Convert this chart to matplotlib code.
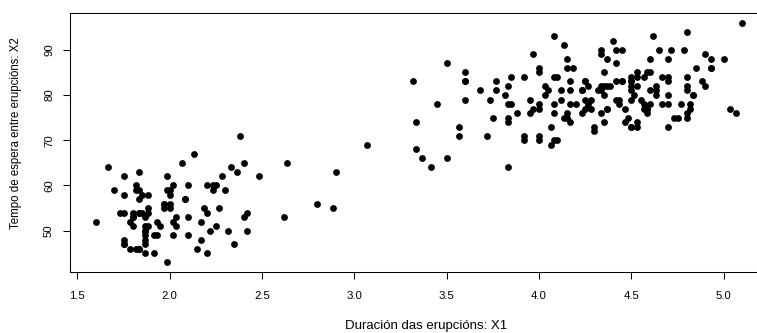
import matplotlib
matplotlib.use("Agg")
import matplotlib.pyplot as plt

plt.rcParams['font.family'] = ['Liberation Sans', 'DejaVu Sans']

# Old Faithful: eruption length (min) and waiting time to next eruption (min)
eruptions = [
    3.600, 1.800, 3.333, 2.283, 4.533, 2.883, 4.700, 3.600, 1.950, 4.350,
    1.833, 3.917, 4.200, 1.750, 4.700, 2.167, 1.750, 4.800, 1.600, 4.250,
    1.800, 1.750, 3.450, 3.067, 4.533, 3.600, 1.967, 4.083, 3.850, 4.433,
    4.300, 4.467, 3.367, 4.033, 3.833, 2.017, 1.867, 4.833, 1.833, 4.783,
    4.350, 1.883, 4.567, 1.750, 4.533, 3.317, 3.833, 2.100, 4.633, 2.000,
    4.800, 4.716, 1.833, 4.833, 1.733, 4.883, 3.717, 1.667, 4.567, 4.317,
    2.233, 4.500, 1.750, 4.800, 1.817, 4.400, 4.167, 4.700, 2.067, 4.700,
    4.033, 1.967, 4.500, 4.000, 1.983, 5.067, 2.017, 4.567, 3.883, 3.600,
    4.133, 4.333, 4.100, 2.633, 4.067, 4.933, 3.950, 4.517, 2.167, 4.000,
    2.200, 4.333, 1.867, 4.817, 1.833, 4.300, 4.667, 3.750, 1.867, 4.900,
    2.483, 4.367, 2.100, 4.500, 4.050, 1.867, 4.700, 1.783, 4.850, 3.683,
    4.733, 2.300, 4.900, 4.417, 1.700, 4.633, 2.317, 4.600, 1.817, 4.417,
    2.617, 4.067, 4.250, 1.967, 4.600, 3.767, 1.917, 4.500, 2.267, 4.650,
    1.867, 4.167, 2.800, 4.333, 1.833, 4.383, 1.883, 4.933, 2.033, 3.733,
    4.233, 2.233, 4.533, 4.817, 4.333, 1.983, 4.633, 2.017, 5.100, 1.800,
    5.033, 4.000, 2.400, 4.600, 3.567, 4.000, 4.500, 4.083, 1.800, 3.967,
    2.200, 4.150, 2.000, 3.833, 3.500, 4.583, 2.367, 5.000, 1.933, 4.617,
    1.917, 2.083, 4.583, 3.333, 4.167, 4.333, 4.500, 2.417, 4.000, 4.167,
    1.883, 4.583, 4.250, 3.767, 2.033, 4.433, 4.083, 1.833, 4.417, 2.183,
    4.800, 1.833, 4.800, 4.100, 3.966, 4.233, 3.500, 4.366, 2.250, 4.667,
    2.100, 4.350, 4.133, 1.867, 4.600, 1.783, 4.367, 3.850, 1.933, 4.500,
    2.383, 4.700, 1.867, 3.833, 3.417, 4.233, 2.400, 4.800, 2.000, 4.150,
    1.867, 4.267, 1.750, 4.483, 4.000, 4.117, 4.083, 4.267, 3.917, 4.550,
    4.083, 2.417, 4.183, 2.217, 4.450, 1.883, 1.850, 4.283, 3.950, 2.333,
    4.150, 2.350, 4.933, 2.900, 4.583, 3.833, 2.083, 4.367, 2.133, 4.350,
    2.200, 4.450, 3.567, 4.500, 4.150, 3.817, 3.917, 4.450, 2.000, 4.283,
    4.767, 4.533, 1.850, 4.250, 1.983, 2.250, 4.750, 4.117, 2.150, 4.417,
    1.817, 4.467,
]
waiting = [
    79, 54, 74, 62, 85, 55, 88, 85, 51, 85,
    54, 84, 78, 47, 83, 52, 62, 84, 52, 79,
    51, 47, 78, 69, 74, 83, 55, 76, 78, 79,
    73, 77, 66, 80, 74, 52, 48, 80, 59, 90,
    80, 58, 84, 58, 73, 83, 64, 53, 82, 59,
    75, 90, 54, 80, 54, 83, 71, 64, 77, 81,
    59, 84, 48, 82, 60, 92, 78, 78, 65, 73,
    82, 56, 79, 71, 62, 76, 60, 78, 76, 83,
    75, 82, 70, 65, 73, 88, 76, 80, 48, 86,
    60, 90, 50, 78, 63, 72, 84, 75, 51, 82,
    62, 88, 49, 83, 81, 47, 84, 52, 86, 81,
    75, 59, 89, 79, 59, 81, 50, 85, 59, 87,
    53, 69, 77, 56, 88, 81, 45, 82, 55, 90,
    45, 83, 56, 89, 46, 82, 51, 86, 53, 79,
    81, 60, 82, 77, 76, 59, 80, 49, 96, 53,
    77, 77, 65, 81, 71, 70, 81, 93, 53, 89,
    45, 86, 58, 78, 66, 76, 63, 88, 52, 93,
    49, 57, 77, 68, 81, 81, 73, 50, 85, 74,
    55, 77, 83, 83, 51, 78, 84, 46, 83, 55,
    81, 57, 76, 84, 77, 81, 87, 77, 51, 78,
    60, 82, 91, 53, 78, 46, 77, 84, 49, 83,
    71, 80, 49, 75, 64, 76, 53, 94, 55, 76,
    50, 82, 54, 75, 78, 79, 78, 78, 70, 79,
    70, 54, 86, 50, 90, 54, 54, 77, 79, 64,
    75, 47, 86, 63, 85, 82, 57, 82, 67, 74,
    54, 83, 73, 73, 88, 80, 71, 83, 56, 79,
    78, 84, 58, 83, 43, 60, 75, 81, 46, 90,
    46, 74,
]

xticks = [1.5, 2.0, 2.5, 3.0, 3.5, 4.0, 4.5, 5.0]
yticks = [50, 60, 70, 80, 90]

fig = plt.figure(figsize=(7.57, 3.33), dpi=100)
# axes box runs past the right edge of the figure
ax = fig.add_axes([70 / 757, 61 / 333, 698 / 757, 259 / 333])

ax.plot(eruptions, waiting, 'o', color='black', markersize=4.9,
        markeredgewidth=0)

# R-style 4% padding around the data
xr = max(eruptions) - min(eruptions)
yr = max(waiting) - min(waiting)
ax.set_xlim(min(eruptions) - 0.04 * xr, max(eruptions) + 0.04 * xr)
ax.set_ylim(min(waiting) - 0.04 * yr, max(waiting) + 0.04 * yr)

ax.set_xticks(xticks)
ax.set_xticklabels(['%.1f' % t for t in xticks])
ax.set_yticks(yticks)
ax.set_yticklabels([str(t) for t in yticks])

for s in ax.spines.values():
    s.set_linewidth(0.75)
    s.set_color('black')

ax.tick_params(axis='x', length=5, width=0.75, pad=9, labelsize=8.2)
ax.tick_params(axis='y', length=5, width=0.75, pad=6.5, labelsize=8.2,
               labelrotation=90)
for lab in ax.get_yticklabels():
    lab.set_va('center')

ax.set_xlabel('Duración das erupcións: X1', fontsize=9.5)
ax.set_ylabel('Tempo de espera entre erupcións: X2', fontsize=8.3)
ax.xaxis.set_label_coords((426 - 70) / 698, (272 - 326) / 259)
ax.xaxis.label.set_va('center')
ax.yaxis.set_label_coords((16 - 70) / 698, (272 - 133) / 259)
ax.yaxis.label.set_va('center')

fig.savefig('out.png', dpi=100)
